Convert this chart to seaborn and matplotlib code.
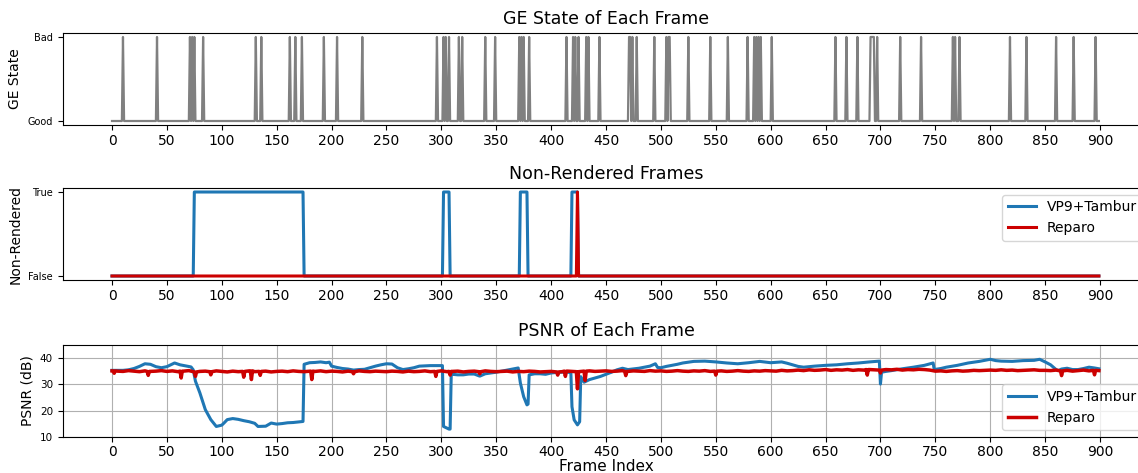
import numpy as np
import matplotlib
matplotlib.use("Agg")
import matplotlib.pyplot as plt
import seaborn as sns

# ---------------- data ----------------
n_frames = 900

# Frames in which the Gilbert-Elliott channel is in the "Bad" state
ge_bad_frames = [10, 41, 71, 73, 75, 83, 131, 136, 162, 167, 173, 193, 205, 228,
                 296, 302, 304, 307, 316, 319, 340, 349, 371, 373, 375, 380,
                 414, 420, 422, 425, 432, 434, 444, 471, 472, 474, 478, 494,
                 505, 507, 508, 525, 545, 561, 579, 585, 587, 589, 591, 601,
                 659, 669, 679, 691, 692, 693, 694, 697, 718, 737, 766, 768,
                 772, 818, 833, 860, 876, 896]

# Spans (first, last frame) that were not rendered
tambur_skip_spans = [(75, 174), (302, 307), (372, 378), (419, 424)]
reparo_skip_spans = [(424, 424)]

# PSNR per frame, VP9+Tambur
tambur_frames = [0, 10, 15, 20, 25, 30, 35, 40, 45, 50, 57, 62, 67, 72, 74, 76, 80, 85,
                 90, 95, 100, 102, 105, 110, 115, 120, 125, 130, 133, 140, 145, 150,
                 155, 160, 165, 170, 174, 175, 180, 185, 190, 195, 198, 200, 205, 210,
                 215, 220, 225, 230, 235, 240, 245, 250, 255, 260, 265, 270, 275, 280,
                 285, 290, 295, 301, 302, 305, 307, 308, 309, 310, 315, 320, 325, 330,
                 335, 340, 345, 350, 355, 360, 365, 370, 372, 375, 378, 379, 380, 385,
                 390, 395, 400, 405, 410, 415, 418, 419, 421, 424, 426, 427, 430, 435,
                 440, 445, 450, 455, 460, 465, 470, 480, 490, 495, 497, 500, 505, 510,
                 515, 520, 525, 530, 540, 550, 560, 570, 580, 590, 600, 610, 615, 620,
                 625, 630, 640, 650, 660, 670, 680, 690, 699, 700, 701, 705, 710, 720,
                 730, 740, 748, 749, 755, 760, 770, 780, 790, 800, 805, 810, 820, 830,
                 840, 845, 850, 855, 860, 862, 865, 870, 875, 880, 885, 890, 895, 899]
tambur_psnr = [35.3, 35.3, 35.5, 36.0, 36.8, 37.8, 37.6, 36.7, 36.3, 36.7, 38.1, 37.4,
               37.0, 36.6, 35.5, 31.2, 26.8, 20.4, 16.6, 14.0, 14.5, 15.3, 16.6, 17.0,
               16.7, 16.2, 15.8, 15.2, 14.0, 14.1, 15.3, 14.9, 15.1, 15.4, 15.5, 15.7,
               15.9, 37.6, 38.2, 38.3, 38.5, 38.2, 38.4, 36.9, 36.4, 36.0, 35.8, 35.4,
               35.6, 35.7, 36.3, 36.9, 37.4, 37.8, 37.7, 36.3, 35.6, 35.9, 36.3, 36.9,
               37.0, 37.1, 37.1, 37.1, 14.0, 13.4, 13.0, 13.0, 33.3, 33.8, 33.6, 33.6,
               33.9, 33.9, 33.1, 34.0, 34.3, 34.6, 35.0, 35.4, 35.8, 36.2, 30.5, 25.3,
               22.2, 22.5, 33.6, 34.0, 34.0, 33.8, 34.3, 34.5, 34.6, 34.6, 34.4, 21.5,
               16.5, 14.6, 15.8, 32.9, 30.8, 31.8, 32.4, 33.0, 33.8, 34.6, 35.5, 36.1,
               35.6, 36.1, 36.9, 37.8, 36.4, 36.3, 36.8, 37.2, 37.6, 38.1, 38.4, 38.7,
               38.8, 38.5, 38.1, 37.8, 38.2, 38.7, 38.2, 38.5, 38.0, 37.4, 36.8, 36.5,
               36.9, 37.2, 37.4, 37.8, 38.1, 38.5, 38.8, 30.1, 34.6, 34.9, 35.2, 35.9,
               36.5, 37.2, 38.1, 35.6, 36.0, 36.5, 37.2, 38.1, 38.7, 39.5, 39.0, 38.8,
               38.7, 39.0, 39.1, 39.5, 38.5, 37.4, 35.6, 35.2, 35.8, 36.1, 35.6, 35.6,
               36.0, 36.5, 36.2, 35.9]

# PSNR per frame, Reparo: values every 5 frames (0..895) plus the last frame
reparo_step_psnr = [
    35.1, 35.0, 34.9, 35.2, 35.0, 34.8, 35.1, 34.9, 35.0, 35.2,
    34.9, 35.1, 34.8, 35.0, 35.2, 34.7, 34.9, 35.0, 34.8, 35.1,
    34.9, 34.7, 35.0, 34.8, 34.9, 35.1, 34.8, 34.9, 35.0, 34.7,
    34.9, 35.0, 34.8, 35.1, 34.9, 34.8, 35.0, 34.9, 35.1, 34.8,
    35.0, 34.9, 34.7, 35.0, 34.8, 35.1, 34.9, 34.8, 35.0, 34.9,
    34.8, 35.0, 34.9, 34.7, 35.0, 34.8, 34.9, 35.1, 34.8, 34.9,
    35.1, 34.8, 34.9, 35.0, 34.7, 34.9, 35.0, 34.8, 35.1, 34.9,
    34.8, 34.9, 35.0, 34.7, 34.9, 34.8, 35.0, 34.9, 34.7, 34.8,
    34.9, 34.7, 34.8, 35.0, 34.9, 34.8, 35.0, 35.1, 34.9, 35.0,
    35.1, 34.9, 35.0, 35.2, 34.9, 35.1, 35.0, 34.9, 35.2, 35.0,
    35.1, 34.9, 35.0, 35.2, 35.0, 34.9, 35.1, 35.0, 35.2, 34.9,
    35.0, 35.1, 34.9, 35.0, 35.2, 35.0, 34.9, 35.1, 35.0, 35.2,
    35.1, 35.0, 35.3, 35.1, 35.2, 35.4, 35.2, 35.5, 35.3, 35.4,
    35.6, 35.3, 35.5, 35.4, 35.6, 35.3, 35.5, 35.4, 35.6, 35.5,
    35.4, 35.6, 35.5, 35.7, 35.4, 35.6, 35.5, 35.7, 35.6, 35.4,
    35.0, 35.1, 34.9, 35.1, 35.2, 35.0, 35.1, 35.3, 35.2, 35.3,
    35.4, 35.3, 35.5, 35.3, 35.4, 35.2, 35.3, 35.4, 35.5, 35.3,
    35.3, 35.2, 35.4, 35.1, 35.3, 35.0, 35.2, 35.4, 35.1, 35.3,
]
reparo_last_psnr = 35.2
# Short single-frame quality drops of Reparo
reparo_dip_frames = [2, 33, 63, 76, 90, 120, 127, 135, 182, 220, 295, 308, 335,
                     406, 413, 424, 431, 468, 550, 688, 700, 865, 895]
reparo_dip_psnr = [34.2, 33.4, 32.4, 33.0, 33.6, 32.7, 31.8, 33.4, 31.8, 34.0, 33.0,
                   33.5, 34.0, 33.5, 33.0, 28.3, 31.4, 33.3, 33.5, 33.5, 34.3, 33.3, 33.6]

# ---------------- derived series ----------------
frames = np.arange(n_frames)
ge_state = np.isin(frames, ge_bad_frames).astype(int)


def spans_to_flags(spans):
    flags = np.zeros(n_frames, dtype=int)
    for first, last in spans:
        flags[first:last + 1] = 1
    return flags


tambur_skipped = spans_to_flags(tambur_skip_spans)
reparo_skipped = spans_to_flags(reparo_skip_spans)

step_frames = list(range(0, n_frames, 5))
reparo_points = dict(zip(step_frames, reparo_step_psnr))
reparo_points[n_frames - 1] = reparo_last_psnr
for f, v in zip(reparo_dip_frames, reparo_dip_psnr):
    # a drop lasts one frame: the neighbours sit at the surrounding level
    level = reparo_step_psnr[min(round(f / 5), len(reparo_step_psnr) - 1)]
    for g in (f - 1, f + 1):
        if 0 <= g < n_frames:
            reparo_points[g] = level
    reparo_points[f] = v
reparo_frames = sorted(reparo_points)
reparo_psnr = [reparo_points[f] for f in reparo_frames]

# ---------------- figure ----------------
BLUE = "#1f77b4"
RED = "#cc0000"
GRAY = "#808080"

fig = plt.figure(figsize=(11.38, 4.73), dpi=100)
W, H = 1138.0, 473.0
left, width = 62.6 / W, 1086.8 / W


def axes_at(top_px, bottom_px):
    return fig.add_axes([left, 1 - bottom_px / H, width, (bottom_px - top_px) / H])


ax1 = axes_at(32.8, 125.2)
ax2 = axes_at(187.8, 280.2)
ax3 = axes_at(344.8, 437.0)

xticks = list(range(0, 901, 50))

# GE state
sns.lineplot(x=frames, y=ge_state, ax=ax1, color=GRAY, linewidth=1.6, estimator=None)
ax1.set_yticks([0, 1])
ax1.set_yticklabels(["Good", "Bad"], fontsize=7)
ax1.set_ylim(-0.05, 1.05)
ax1.set_ylabel("GE State", fontsize=10)
ax1.set_title("GE State of Each Frame", fontsize=12.5)

# Non-rendered frames
sns.lineplot(x=frames, y=tambur_skipped, ax=ax2, color=BLUE, linewidth=2.2,
             estimator=None, label="VP9+Tambur")
sns.lineplot(x=frames, y=reparo_skipped, ax=ax2, color=RED, linewidth=2.2,
             estimator=None, label="Reparo")
ax2.set_yticks([0, 1])
ax2.set_yticklabels(["False", "True"], fontsize=7)
ax2.set_ylim(-0.05, 1.05)
ax2.set_ylabel("Non-Rendered", fontsize=10)
ax2.set_title("Non-Rendered Frames", fontsize=12.5)
ax2.legend(loc="upper right", fontsize=10)

# PSNR
sns.lineplot(x=tambur_frames, y=tambur_psnr, ax=ax3, color=BLUE, linewidth=2.2,
             estimator=None, label="VP9+Tambur")
sns.lineplot(x=reparo_frames, y=reparo_psnr, ax=ax3, color=RED, linewidth=2.5,
             estimator=None, label="Reparo")
ax3.set_yticks([10, 20, 30, 40])
ax3.tick_params(axis="y", labelsize=7.5)
ax3.set_ylim(10, 45)
ax3.set_ylabel("PSNR (dB)", fontsize=10)
ax3.set_xlabel("Frame Index", fontsize=11, labelpad=0)
ax3.set_title("PSNR of Each Frame", fontsize=12.5)
ax3.grid(True, color="#b0b0b0", linewidth=0.8)
ax3.legend(loc="lower right", fontsize=10)

for ax in (ax1, ax2, ax3):
    ax.set_xlim(-45, 945)
    ax.set_xticks(xticks)
    ax.tick_params(axis="x", labelsize=10, pad=2.5)
for ax in (ax1, ax2):
    ax.set_xlabel("")

fig.savefig("out.png", dpi=100)
